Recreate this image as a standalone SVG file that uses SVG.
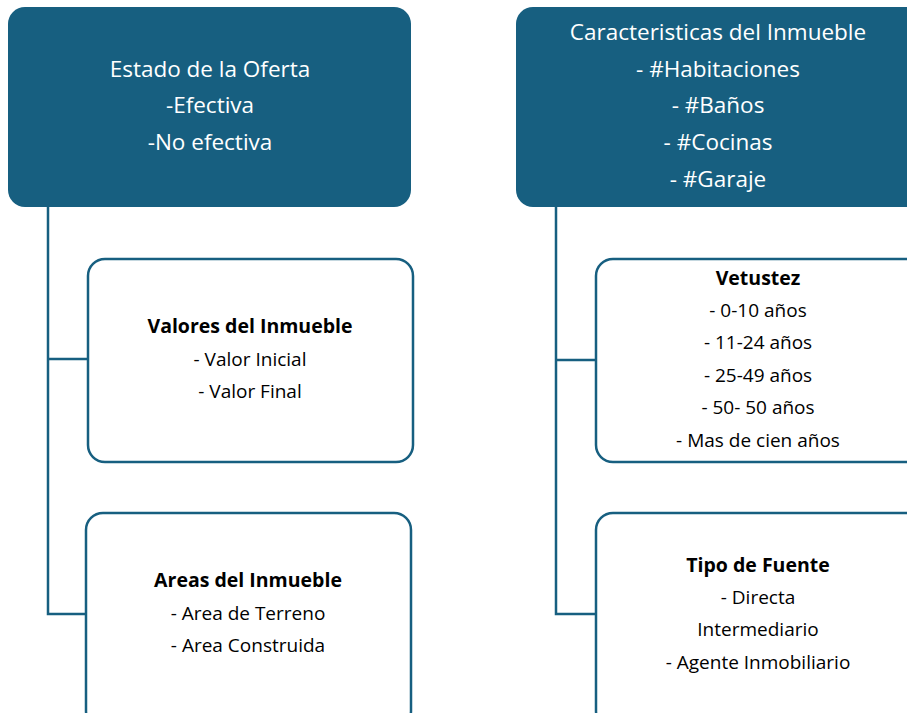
<svg xmlns="http://www.w3.org/2000/svg" width="907" height="713" viewBox="0 0 907 713">
<style>
.top{fill:#175F80;}
.child{fill:#fff;stroke:#175F80;stroke-width:2.5;}
.conn{fill:none;stroke:#175F80;stroke-width:2.5;}
.tw{font-family:"Open Sans","Liberation Sans",sans-serif;font-size:22.5px;fill:#fff;text-anchor:middle;}
.tb{font-family:"Open Sans","Liberation Sans",sans-serif;font-size:19px;fill:#000;text-anchor:middle;}
.b{font-weight:bold;font-size:19.5px;}
</style>
<rect width="907" height="713" fill="#fff"/>
<g id="connectors">
<path class="conn" d="M48 207 V614 H86 M48 359 H88"/>
<path class="conn" d="M556 207 V614 H596 M556 360 H596"/>
</g>
<g id="estado">
<rect class="top" x="8" y="7" width="403" height="200" rx="17"/>
<text class="tw" x="210" y="77">Estado de la Oferta</text>
<text class="tw" x="210" y="113">-Efectiva</text>
<text class="tw" x="210" y="150">-No efectiva</text>
</g>
<g id="caracteristicas">
<rect class="top" x="516" y="7" width="410" height="200" rx="17"/>
<text class="tw" x="718" y="40">Caracteristicas del Inmueble</text>
<text class="tw" x="718" y="77">- #Habitaciones</text>
<text class="tw" x="718" y="113">- #Baños</text>
<text class="tw" x="718" y="150">- #Cocinas</text>
<text class="tw" x="718" y="187">- #Garaje</text>
</g>
<g id="valores">
<rect class="child" x="88" y="259" width="325" height="203" rx="17"/>
<text class="tb b" x="250" y="333">Valores del Inmueble</text>
<text class="tb" x="250" y="366">- Valor Inicial</text>
<text class="tb" x="250" y="398">- Valor Final</text>
</g>
<g id="areas">
<rect class="child" x="86" y="513" width="325" height="215" rx="17"/>
<text class="tb b" x="248" y="587">Areas del Inmueble</text>
<text class="tb" x="248" y="620">- Area de Terreno</text>
<text class="tb" x="248" y="652">- Area Construida</text>
</g>
<g id="vetustez">
<rect class="child" x="596" y="259" width="330" height="203" rx="17"/>
<text class="tb b" x="758" y="285">Vetustez</text>
<text class="tb" x="758" y="317">- 0-10 años</text>
<text class="tb" x="758" y="349">- 11-24 años</text>
<text class="tb" x="758" y="382">- 25-49 años</text>
<text class="tb" x="758" y="414">- 50- 50 años</text>
<text class="tb" x="758" y="447">- Mas de cien años</text>
</g>
<g id="fuente">
<rect class="child" x="596" y="513" width="330" height="215" rx="17"/>
<text class="tb b" x="758" y="572">Tipo de Fuente</text>
<text class="tb" x="758" y="604">- Directa</text>
<text class="tb" x="758" y="636">Intermediario</text>
<text class="tb" x="758" y="669">- Agente Inmobiliario</text>
</g>
</svg>
